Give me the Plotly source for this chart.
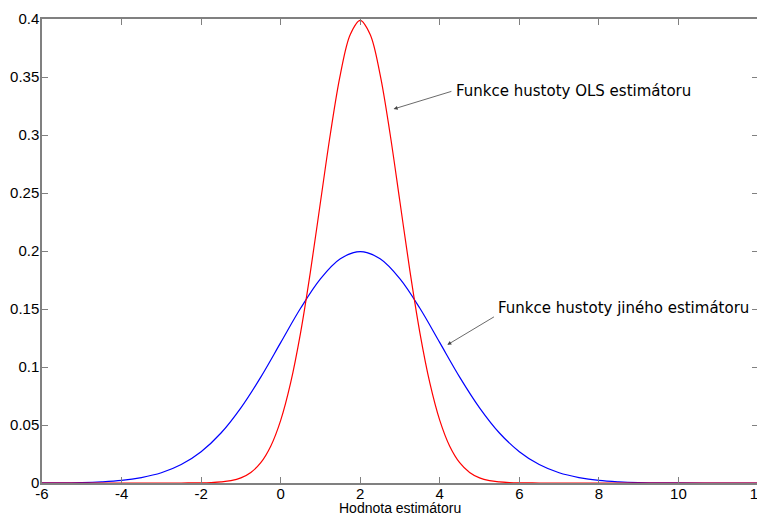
import plotly.graph_objects as go

# Values
x_ols = [-6, -5, -4, -3, -2.5, -2, -1.75, -1.5, -1.25, -1, -0.75, -0.5, -0.25, 0, 0.25, 0.5, 0.75,
         1, 1.25, 1.5, 1.75, 2, 2.25, 2.5, 2.75, 3, 3.25, 3.5, 3.75, 4, 4.25, 4.5, 4.75, 5,
         5.25, 5.5, 5.75, 6, 6.5, 7, 8, 9, 10, 11, 12]
y_ols = [0.0, 0.0, 0.0, 0.0, 0.00002, 0.00013, 0.00035, 0.0009, 0.0020, 0.0044, 0.0091, 0.0175,
         0.0317, 0.054, 0.0863, 0.1295, 0.1826, 0.242, 0.3011, 0.3521, 0.3867, 0.3989, 0.3867,
         0.3521, 0.3011, 0.242, 0.1826, 0.1295, 0.0863, 0.054, 0.0317, 0.0175, 0.0091, 0.0044,
         0.0020, 0.0009, 0.00035, 0.00013, 0.00002, 0.0, 0.0, 0.0, 0.0, 0.0, 0.0]

x_other = [-6, -5.5, -5, -4.5, -4, -3.5, -3, -2.5, -2, -1.5, -1, -0.5, 0, 0.5, 1, 1.5, 2, 2.5,
           3, 3.5, 4, 4.5, 5, 5.5, 6, 6.5, 7, 7.5, 8, 8.5, 9, 9.5, 10, 11, 12]
y_other = [0.00007, 0.0002, 0.0004, 0.001, 0.0022, 0.0047, 0.0088, 0.0159, 0.027, 0.0431,
           0.0648, 0.0913, 0.121, 0.1506, 0.176, 0.1933, 0.1995, 0.1933, 0.176, 0.1506, 0.121,
           0.0913, 0.0648, 0.0431, 0.027, 0.0159, 0.0088, 0.0047, 0.0022, 0.001, 0.0004,
           0.0002, 0.00007, 0.0, 0.0]

x_ticks = [-6, -4, -2, 0, 2, 4, 6, 8, 10, 12]
y_ticks = [0, 0.05, 0.1, 0.15, 0.2, 0.25, 0.3, 0.35, 0.4]
y_tick_labels = ["0", "0.05", "0.1", "0.15", "0.2", "0.25", "0.3", "0.35", "0.4"]

label_ols = "Funkce hustoty OLS estimátoru"
label_other = "Funkce hustoty jiného estimátoru"
x_title = "Hodnota estimátoru"

fig = go.Figure()
fig.add_trace(go.Scatter(x=x_other, y=y_other, mode="lines",
                         line=dict(color="#0000ff", width=1.2, shape="spline", smoothing=1.0),
                         showlegend=False, hoverinfo="skip"))
fig.add_trace(go.Scatter(x=x_ols, y=y_ols, mode="lines",
                         line=dict(color="#ff0000", width=1.2, shape="spline", smoothing=1.0),
                         showlegend=False, hoverinfo="skip"))

tick_font = dict(family="Liberation Sans, Arial", size=15, color="#000000")
axis_common = dict(showgrid=False, zeroline=False, showline=True, linecolor="#808080",
                   linewidth=1.5, mirror="ticks", ticks="inside", ticklen=6,
                   tickcolor="#808080", tickwidth=1, automargin=False, tickfont=tick_font,
                   ticklabeloverflow="allow")

fig.update_xaxes(range=[-6, 12], tickvals=x_ticks, ticktext=[str(v) for v in x_ticks],
                 ticklabelstandoff=-4, **axis_common)
fig.update_yaxes(range=[0, 0.4], tickvals=y_ticks, ticktext=y_tick_labels,
                 ticklabelstandoff=-2, **axis_common)

fig.add_annotation(x=0.5, y=0, xref="paper", yref="paper", yshift=-15, text=x_title,
                   showarrow=False, xanchor="center", yanchor="top",
                   font=dict(family="Liberation Sans, Arial", size=14, color="#000000"))

ann_font = dict(family="DejaVu Sans, Verdana", size=15, color="#000000")
fig.add_annotation(x=2.84, y=0.3224, ax=4.33, ay=0.338, xref="x", yref="y", axref="x", ayref="y",
                   text="", showarrow=True, arrowhead=2, arrowsize=1, arrowwidth=0.8,
                   arrowcolor="#444444")
fig.add_annotation(x=4.35, y=0.338, xref="x", yref="y", text=label_ols, showarrow=False,
                   xanchor="left", yanchor="middle", font=ann_font)
fig.add_annotation(x=4.19, y=0.1191, ax=5.4, ay=0.1440, xref="x", yref="y", axref="x", ayref="y",
                   text="", showarrow=True, arrowhead=2, arrowsize=1, arrowwidth=0.8,
                   arrowcolor="#444444")
fig.add_annotation(x=5.42, y=0.151, xref="x", yref="y", text=label_other, showarrow=False,
                   xanchor="left", yanchor="middle", font=ann_font)

# page body has an 8px margin, so the figure is sized/offset to match the reference frame
fig.update_layout(width=757, height=506, margin=dict(l=34, r=7, t=11, b=31, autoexpand=False),
                  plot_bgcolor="#ffffff", paper_bgcolor="#ffffff")

fig.write_html("out.html")
